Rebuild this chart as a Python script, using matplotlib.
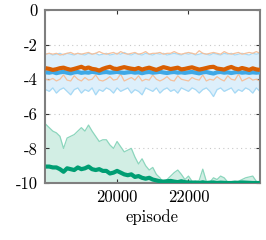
import numpy as np
import matplotlib
matplotlib.use("Agg")
import matplotlib.pyplot as plt

plt.rcParams['font.family'] = ['cmr10', 'DejaVu Serif']
plt.rcParams['axes.unicode_minus'] = False
plt.rcParams['mathtext.fontset'] = 'cm'

episodes = np.arange(18000, 24001, 100)

blue_mean = [-3.6,-3.62,-3.58,-3.65,-3.6,-3.57,-3.62,-3.66,-3.6,-3.58,-3.63,-3.6,-3.62,-3.57,-3.6,-3.64,-3.6,-3.58,-3.62,-3.6,
             -3.57,-3.61,-3.63,-3.6,-3.58,-3.62,-3.6,-3.65,-3.6,-3.58,-3.62,-3.6,-3.57,-3.61,-3.64,-3.6,-3.58,-3.62,-3.6,-3.63,
             -3.6,-3.58,-3.62,-3.66,-3.6,-3.58,-3.63,-3.67,-3.6,-3.58,-3.62,-3.6,-3.64,-3.6,-3.58,-3.62,-3.6,-3.63,-3.6,-3.62,-3.6]
blue_upper = [-2.55,-2.5,-2.6,-2.55,-2.5,-2.6,-2.5,-2.55,-2.6,-2.5,-2.55,-2.6,-2.5,-2.55,-2.5,-2.6,-2.55,-2.5,-2.6,-2.55,
              -2.5,-2.55,-2.45,-2.55,-2.6,-2.5,-2.55,-2.6,-2.5,-2.55,-2.6,-2.5,-2.55,-2.5,-2.6,-2.55,-2.5,-2.55,-2.6,-2.5,
              -2.55,-2.5,-2.6,-2.55,-2.5,-2.55,-2.6,-2.5,-2.55,-2.6,-2.5,-2.55,-2.5,-2.6,-2.55,-2.5,-2.55,-2.6,-2.5,-2.55,-2.5]
blue_lower = [-4.6,-4.7,-4.5,-4.8,-4.6,-4.5,-4.7,-4.9,-4.6,-4.5,-4.8,-4.6,-4.7,-4.5,-4.9,-4.6,-4.7,-4.5,-4.6,-4.8,
              -4.5,-4.7,-4.6,-4.5,-4.8,-4.6,-4.7,-4.9,-4.5,-4.6,-4.7,-4.5,-4.8,-4.6,-4.5,-4.7,-4.6,-4.8,-4.5,-4.6,
              -4.7,-4.5,-4.6,-4.8,-4.6,-4.5,-4.7,-5.0,-4.6,-4.5,-4.7,-4.6,-4.5,-4.8,-4.6,-4.7,-4.5,-4.6,-4.8,-4.5,-4.7]

orange_mean = [-3.36,-3.4,-3.46,-3.42,-3.36,-3.33,-3.4,-3.45,-3.4,-3.34,-3.28,-3.38,-3.32,-3.4,-3.43,-3.5,-3.4,-3.33,-3.28,-3.38,
               -3.41,-3.35,-3.3,-3.35,-3.39,-3.42,-3.35,-3.44,-3.38,-3.33,-3.4,-3.46,-3.38,-3.3,-3.35,-3.41,-3.37,-3.33,-3.43,-3.4,
               -3.35,-3.31,-3.38,-3.44,-3.4,-3.35,-3.3,-3.28,-3.38,-3.41,-3.44,-3.35,-3.29,-3.38,-3.43,-3.35,-3.4,-3.46,-3.37,-3.43,-3.46]
orange_upper = [-2.55,-2.5,-2.55,-2.5,-2.6,-2.55,-2.5,-2.45,-2.55,-2.5,-2.55,-2.5,-2.45,-2.55,-2.5,-2.4,-2.5,-2.55,-2.5,-2.45,
                -2.55,-2.4,-2.5,-2.55,-2.5,-2.45,-2.55,-2.5,-2.4,-2.55,-2.5,-2.5,-2.45,-2.55,-2.5,-2.5,-2.4,-2.5,-2.55,-2.5,
                -2.45,-2.5,-2.55,-2.35,-2.5,-2.55,-2.5,-2.45,-2.5,-2.55,-2.4,-2.5,-2.55,-2.5,-2.45,-2.55,-2.5,-2.45,-2.5,-2.4,-2.5]
orange_lower = [-4.0,-4.05,-3.95,-4.1,-4.0,-3.75,-4.05,-4.1,-3.8,-4.0,-4.1,-3.9,-4.05,-4.0,-3.75,-4.05,-4.1,-4.0,-3.85,-4.05,
                -4.0,-3.7,-4.1,-4.0,-3.9,-4.05,-3.8,-4.1,-4.0,-4.05,-3.75,-4.0,-4.1,-4.0,-3.85,-4.05,-4.1,-3.8,-4.0,-4.05,
                -4.1,-3.9,-4.0,-4.05,-3.75,-4.1,-4.0,-4.05,-3.85,-4.0,-4.1,-3.8,-4.0,-4.05,-3.7,-4.1,-4.0,-3.9,-4.05,-4.0,-4.1]

green_mean = [-9.05,-9.05,-9.1,-9.1,-9.2,-9.35,-9.15,-9.2,-9.25,-9.1,-9.2,-9.15,-9.05,-9.2,-9.25,-9.2,-9.3,-9.3,-9.45,-9.4,
              -9.3,-9.4,-9.5,-9.55,-9.5,-9.65,-9.6,-9.7,-9.75,-9.7,-9.8,-9.85,-9.9,-9.92,-9.9,-9.88,-9.92,-9.95,-9.9,-9.95,
              -9.97,-9.98,-9.97,-10.0,-9.96,-10.0,-9.98,-9.97,-10.0,-9.98,-9.99,-10.0,-10.0,-9.98,-9.99,-9.97,-9.98,-9.99,-10.0,-10.0,-10.0]
green_upper = [-6.6,-6.8,-7.0,-7.1,-7.3,-8.0,-7.4,-7.3,-7.2,-7.0,-6.8,-7.0,-6.65,-7.0,-7.3,-7.6,-7.5,-7.5,-7.8,-8.0,
               -7.6,-7.9,-8.2,-8.1,-8.0,-8.5,-8.9,-8.6,-9.0,-9.25,-9.1,-9.5,-9.7,-10.0,-9.8,-9.6,-9.4,-9.25,-9.5,-9.8,
               -9.6,-9.9,-9.95,-9.85,-9.2,-9.9,-9.95,-9.7,-9.8,-9.6,-9.7,-9.95,-10.0,-10.0,-9.9,-9.8,-9.7,-9.65,-9.6,-9.9,-10.0]
green_lower = [-10.0] * 61

yticks = [0, -2, -4, -6, -8, -10]
ytick_labels = ['0', '-2', '-4', '-6', '-8', '-10']
xticks = [20000, 22000]
xtick_labels = ['20000', '22000']

fig = plt.figure(figsize=(2.66, 2.40), dpi=100)
ax = fig.add_axes([0.169, 0.2375, 0.808, 0.7205])

for v in [-2, -4, -6, -8]:
    ax.axhline(v, color='#c8c8c8', lw=0.8, ls=(0, (1, 3)), zorder=0)

# blue band
ax.fill_between(episodes, blue_lower, blue_upper, color='#ddeffb', lw=0, zorder=1)
ax.plot(episodes, blue_upper, color='#a6d9f5', lw=0.9, zorder=2)
ax.plot(episodes, blue_lower, color='#a6d9f5', lw=0.9, zorder=2)
# orange bounds
ax.plot(episodes, orange_upper, color='#f5c09c', lw=0.9, zorder=2)
ax.plot(episodes, orange_lower, color='#f5c09c', lw=0.9, zorder=2)
# green band
ax.fill_between(episodes, green_lower, green_upper, color='#d2eee4', lw=0, zorder=1)
ax.plot(episodes, green_upper, color='#8cd6bd', lw=0.9, zorder=2)

ax.plot(episodes, blue_mean, color='#3ea8e6', lw=3.0, zorder=3, solid_capstyle='butt')
ax.plot(episodes, orange_mean, color='#d95f02', lw=3.0, zorder=4, solid_capstyle='butt')
ax.plot(episodes, green_mean, color='#009e73', lw=3.0, zorder=4, solid_capstyle='butt')

ax.set_xlim(17980, 24000)
ax.set_ylim(-10, 0)
ax.set_yticks(yticks)
ax.set_yticklabels(ytick_labels)
ax.set_xticks(xticks)
ax.set_xticklabels(xtick_labels)
ax.tick_params(direction='in', top=True, right=True, length=3, width=0.8,
               labelsize=12, color='#333333', pad=5)
for s in ax.spines.values():
    s.set_color('#7f7f7f')
    s.set_linewidth(1.5)
ax.set_xlabel('episode', fontsize=12, labelpad=3)

fig.savefig('out.png', dpi=100)
